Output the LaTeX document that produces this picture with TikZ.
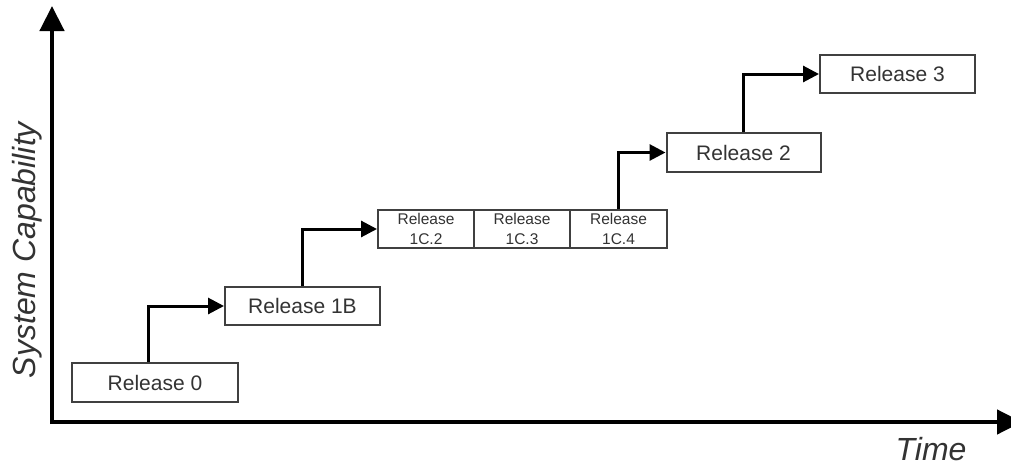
\documentclass[tikz,border=0pt]{standalone}
\usepackage{fontspec}
\setmainfont{Liberation Sans}
\usetikzlibrary{arrows.meta,calc}
\definecolor{txt}{rgb}{0.2,0.2,0.2}
\definecolor{bord}{rgb}{0.25,0.25,0.25}
\begin{document}
\begin{tikzpicture}[x=1pt,y=-1pt,
  rel/.style={draw=bord,line width=2pt,fill=white,inner sep=0pt,minimum height=38pt,text=txt,font=\fontsize{21}{24}\selectfont},
  sub/.style={draw=bord,line width=2pt,fill=white,inner sep=0pt,minimum height=38pt,text=txt,align=center,font=\fontsize{15.5}{20}\selectfont},
  conn/.style={line width=3pt,-{Triangle[length=16pt,width=16pt]}},
  axis/.style={line width=4.5pt,-{Triangle[length=25pt,width=24pt]}},
  lab/.style={text=txt,font=\fontsize{32}{36}\selectfont\itshape}]
\useasboundingbox (0,0) rectangle (1011,466);
\fill[white] (0,0) rectangle (1011,466);
\coordinate (o) at (52,422);
\coordinate (ytop) at (52,6);
\coordinate (xend) at (1022,422);
\draw[axis] ($(o)+(0,2)$) -- (ytop);
\draw[axis] ($(o)+(-2,0)$) -- (xend);
\node[lab,rotate=90] (ylab) at (27,250) {System Capability};
\node[lab,anchor=base] (xlab) at (931,460) {Time};
\node[rel,minimum width=166pt,minimum height=39pt] (r0) at (155,382.5) {Release 0};
\node[rel,minimum width=155pt] (r1b) at (302.5,306) {Release 1B};
\node[sub,minimum width=96pt] (c2) at (426,229) {Release\\1C.2};
\node[sub,minimum width=96pt] (c3) at (522,229) {Release\\1C.3};
\node[sub,minimum width=97pt] (c4) at (618.5,229) {Release\\1C.4};
\node[rel,minimum width=154pt,minimum height=39pt] (r2) at (743.5,152.5) {Release 2};
\node[rel,minimum width=155pt] (r3) at (897.5,74) {Release 3};
\draw[conn] ($(r0.north)+(-7,0)$) |- (r1b.west);
\draw[conn] (r1b.north) |- (c2.west);
\draw[conn] (c4.north) |- (r2.west);
\draw[conn] (r2.north) |- (r3.west);
\end{tikzpicture}
\end{document}
